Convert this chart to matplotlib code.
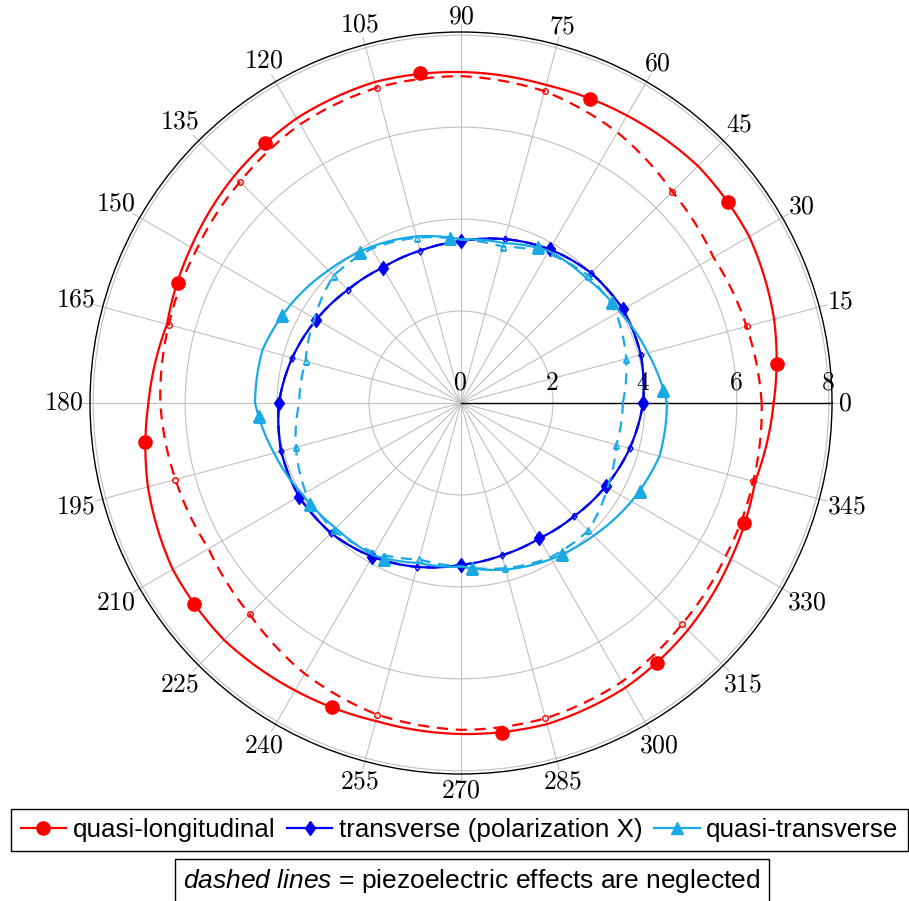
# Phase velocity slowness polar plot - quasi-longitudinal / transverse / quasi-transverse
import numpy as np
import matplotlib.pyplot as plt

plt.rcParams['font.family'] = ['Liberation Sans', 'DejaVu Sans']
plt.rcParams['mathtext.fontset'] = 'custom'
plt.rcParams['mathtext.rm'] = 'Liberation Sans'
plt.rcParams['mathtext.it'] = 'Liberation Sans:italic'

# angles in degrees (0..345, step 15)
ang = list(range(0, 360, 15))

# quasi-longitudinal (solid = with piezo, dashed = piezo neglected)
ql = [6.80, 7.05, 7.24, 7.29, 7.22, 7.16, 7.20, 7.23, 7.15, 6.98, 6.78, 6.62,
      6.80, 7.05, 7.24, 7.29, 7.22, 7.16, 7.20, 7.23, 7.15, 6.98, 6.78, 6.62]
ql_np = [6.54, 6.43, 6.34, 6.50, 6.80, 7.02, 7.11, 7.10, 7.00, 6.80, 6.65, 6.58,
         6.54, 6.43, 6.34, 6.50, 6.80, 7.02, 7.11, 7.10, 7.00, 6.80, 6.65, 6.58]

# transverse (polarization X)
tr = [3.96, 4.05, 4.07, 4.00, 3.86, 3.69, 3.52, 3.43, 3.40, 3.48, 3.63, 3.80,
      3.96, 4.05, 4.07, 4.00, 3.86, 3.69, 3.52, 3.43, 3.40, 3.48, 3.63, 3.80]
tr_np = [3.96, 4.05, 4.07, 4.00, 3.86, 3.69, 3.52, 3.43, 3.40, 3.48, 3.63, 3.80,
         3.96, 4.05, 4.07, 4.00, 3.86, 3.69, 3.52, 3.43, 3.40, 3.48, 3.63, 3.80]

# quasi-transverse
qt = [4.48, 4.21, 3.98, 3.85, 3.82, 3.60, 3.56, 3.75, 3.92, 4.08, 4.28, 4.47,
      4.48, 4.21, 3.98, 3.85, 3.82, 3.60, 3.56, 3.75, 3.92, 4.08, 4.28, 4.47]
qt_np = [3.52, 3.72, 3.90, 3.92, 3.76, 3.52, 3.55, 3.72, 3.88, 3.92, 3.68, 3.50,
         3.52, 3.72, 3.90, 3.92, 3.76, 3.52, 3.55, 3.72, 3.88, 3.92, 3.68, 3.50]

# marker positions
ql_mark_ang = [7, 37, 67, 97, 127, 157, 187, 217, 247, 277, 307, 337]
ql_mark = [6.92, 7.28, 7.18, 7.23, 7.08, 6.68, 6.92, 7.28, 7.18, 7.23, 7.08, 6.68]
qt_mark_ang = [3.7, 33.7, 63.7, 93.7, 123.7, 153.7, 183.7, 213.7, 243.7, 273.7, 303.7, 333.7]
qt_mark = [4.40, 3.96, 3.78, 3.59, 3.95, 4.34, 4.40, 3.96, 3.78, 3.59, 3.95, 4.34]

c_red = '#ff0000'
c_blue = '#0000f0'
c_cyan = '#19a9e5'

rmax = 8.07
diamond = [(0, 1), (0.72, 0), (0, -1), (-0.72, 0), (0, 1)]


def closed(a, r):
    t = np.deg2rad(np.append(a, a[0] + 360))
    return t, np.append(r, r[0])


def polar_line(t, r, **kw):
    # draw segments as arcs in (theta, r) instead of straight chords
    ln, = ax.plot(t, r, **kw)
    ln.get_path()._interpolation_steps = 20
    return ln


fig = plt.figure(figsize=(9.09, 9.01), dpi=100)
ax = fig.add_axes([90 / 909, 127 / 901, 742 / 909, 742 / 901], projection='polar')

lw = 1.6
dash = (0, (5, 3.5))

t, r = closed(ang, ql_np)
polar_line(t, r, color=c_red, lw=lw, ls=dash, marker='o', ms=4, mfc='none', mew=1, markevery=(1, 2))
t, r = closed(ang, ql)
polar_line(t, r, color=c_red, lw=lw)
ax.plot(np.deg2rad(ql_mark_ang), ql_mark, ls='none', marker='o', ms=9.5, color=c_red)

t, r = closed(ang, tr_np)
polar_line(t, r, color=c_blue, lw=lw, ls=dash, marker=diamond, ms=5, mfc='none', mew=1, markevery=(1, 2))
t, r = closed(ang, tr)
polar_line(t, r, color=c_blue, lw=lw, marker=diamond, ms=10, markevery=2)

t, r = closed(ang, qt_np)
polar_line(t, r, color=c_cyan, lw=lw, ls=dash, marker='^', ms=4, mfc='none', mew=1, markevery=(1, 2))
t, r = closed(ang, qt)
polar_line(t, r, color=c_cyan, lw=lw)
ax.plot(np.deg2rad(qt_mark_ang), qt_mark, ls='none', marker='^', ms=9, color=c_cyan)

# legend handles
h1, = ax.plot([], [], color=c_red, lw=lw, marker='o', ms=9.5)
h2, = ax.plot([], [], color=c_blue, lw=lw, marker=diamond, ms=10)
h3, = ax.plot([], [], color=c_cyan, lw=lw, marker='^', ms=9)

ax.set_rlim(0, rmax)
ax.set_rgrids([2, 4, 6, 8], labels=[])
ax.set_thetagrids(ang, labels=[])
ax.grid(True, color='#c0c0c0', lw=0.8)
ax.spines['polar'].set_color('black')
ax.spines['polar'].set_linewidth(1.0)
ax.tick_params(axis='both', length=0)

# 0 deg axis line and grid ticks reaching out to the labels
ax.plot([0, 0], [0, rmax], color='black', lw=1.0, zorder=1.9)
for a in ang:
    tt = np.deg2rad(a)
    ax.plot([tt, tt], [rmax, 8.24], color='#c0c0c0', lw=0.8, clip_on=False)

# angle labels
for a in ang:
    lab = str(a)
    tt = np.deg2rad(a)
    ext = abs(np.cos(tt)) * len(lab) * 6.4 + abs(np.sin(tt)) * 9
    d = (7 + ext) * 0.72
    ax.annotate('$' + lab + '$', xy=(tt, rmax), xytext=(d * np.cos(tt), d * np.sin(tt)),
                textcoords='offset points', ha='center', va='center', fontsize=18.5,
                math_fontfamily='cm', annotation_clip=False)

# radius labels
for rr in [0, 2, 4, 6, 8]:
    ax.annotate('$' + str(rr) + '$', xy=(0, rr), xytext=(-1, 6), textcoords='offset points',
                ha='center', va='bottom', fontsize=18.5, math_fontfamily='cm')

leg = fig.legend([h1, h2, h3], ['quasi-longitudinal', 'transverse (polarization X)', 'quasi-transverse'],
                 loc='center', bbox_to_anchor=(459.5 / 909, 1 - 830 / 901), ncol=3, fontsize=18.7,
                 handlelength=1.75, handletextpad=0.25, columnspacing=0.45, borderpad=0.35,
                 fancybox=False, edgecolor='black', framealpha=1)
leg.get_frame().set_linewidth(1.0)

fig.text(472 / 909, 1 - 881 / 901, r'$\it{dashed\ lines}$ = piezoelectric effects are neglected',
         ha='center', va='center', fontsize=19,
         bbox=dict(boxstyle='square,pad=0.3', fc='white', ec='black', lw=1.0))

fig.savefig('out.png', dpi=100)
